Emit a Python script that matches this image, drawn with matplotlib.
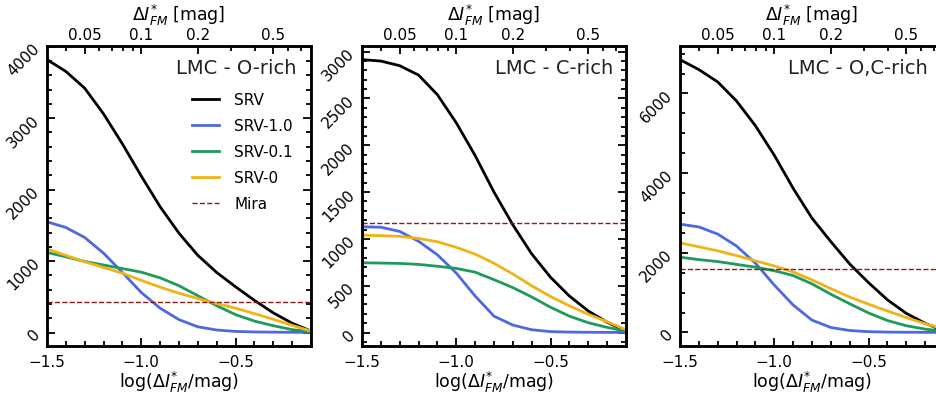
import numpy as np
import matplotlib
matplotlib.use("Agg")
from matplotlib import pyplot as plt
from matplotlib.ticker import MultipleLocator

# log(dI*/mag) grid shared by all curves
logdI = [-1.5, -1.4, -1.3, -1.2, -1.1, -1.0, -0.9, -0.8, -0.7, -0.6, -0.5, -0.4, -0.3, -0.2, -0.1]

# LMC O-rich
o_srv   = [3820, 3655, 3420, 3060, 2640, 2190, 1760, 1390, 1080, 840, 640, 450, 275, 130, 20]
o_srv10 = [1550, 1470, 1330, 1110, 840, 560, 340, 180, 80, 35, 15, 8, 5, 3, 2]
o_srv01 = [1120, 1060, 995, 945, 895, 845, 765, 655, 515, 375, 250, 160, 95, 40, 10]
o_srv0  = [1170, 1080, 990, 910, 830, 730, 635, 550, 475, 405, 340, 265, 185, 100, 20]
o_mira = 430

# LMC C-rich
c_srv   = [2915, 2900, 2850, 2750, 2540, 2240, 1890, 1500, 1150, 840, 590, 390, 230, 110, 15]
c_srv10 = [1130, 1125, 1080, 975, 830, 635, 390, 175, 80, 30, 10, 5, 3, 2, 2]
c_srv01 = [745, 742, 738, 728, 708, 685, 645, 565, 480, 380, 270, 175, 105, 55, 15]
c_srv0  = [1040, 1035, 1027, 1005, 970, 910, 838, 740, 625, 500, 385, 285, 195, 115, 30]
c_mira = 1170

# LMC O,C-rich
oc_srv   = [6850, 6600, 6290, 5810, 5190, 4450, 3620, 2870, 2280, 1720, 1250, 820, 480, 230, 40]
oc_srv10 = [2720, 2650, 2470, 2170, 1740, 1190, 690, 310, 125, 50, 20, 10, 6, 4, 3]
oc_srv01 = [1890, 1830, 1780, 1710, 1640, 1550, 1430, 1220, 960, 720, 490, 300, 170, 85, 30]
oc_srv0  = [2250, 2150, 2050, 1930, 1800, 1670, 1520, 1320, 1100, 890, 710, 540, 375, 220, 80]
oc_mira = 1600

titles = ["LMC - O-rich", "LMC - C-rich", "LMC - O,C-rich"]
labels = ["SRV", "SRV-1.0", "SRV-0.1", "SRV-0"]
colors = ["black", "#4d68e0", "#1f9a5c", "#f0b316"]
top_major = [0.05, 0.1, 0.2, 0.5]
top_minor = [0.04, 0.06, 0.07, 0.08, 0.09, 0.3, 0.4, 0.6, 0.7]

panels = [
    ([o_srv, o_srv10, o_srv01, o_srv0], o_mira, 1000, 200),
    ([c_srv, c_srv10, c_srv01, c_srv0], c_mira, 500, 100),
    ([oc_srv, oc_srv10, oc_srv01, oc_srv0], oc_mira, 2000, 500),
]

W, H = 936, 397
fig = plt.figure(figsize=(W / 100, H / 100), dpi=100)
lefts = [47, 362, 680]
title_x = [0.945, 0.95, 0.94]

for k, (series, mira, major, minor) in enumerate(panels):
    ax = fig.add_axes([lefts[k] / W, 51 / H, 264 / W, 300 / H])
    for ys, lab, col in zip(series, labels, colors):
        ax.plot(logdI, ys, color=col, lw=2, label=lab)
    ax.axhline(mira, color="#8b1a1a", lw=1, ls="--", label="Mira")
    ax.set_xlim(-1.5, -0.1)
    ax.margins(y=0.05)

    ax.xaxis.set_major_locator(MultipleLocator(0.5))
    ax.xaxis.set_minor_locator(MultipleLocator(0.1))
    ax.yaxis.set_major_locator(MultipleLocator(major))
    ax.yaxis.set_minor_locator(MultipleLocator(minor))
    ax.tick_params(which="both", direction="in", left=True, right=True,
                   bottom=True, top=False, labelsize=11, width=1.3)
    ax.tick_params(which="major", length=6)
    ax.tick_params(which="minor", length=3.5)
    ax.tick_params(axis="x", pad=6.5)
    ax.tick_params(axis="y", pad=7)
    for lbl in ax.get_yticklabels():
        lbl.set_rotation(45)
        lbl.set_rotation_mode("anchor")
        lbl.set_ha("right")
        lbl.set_va("center")
    for sp in ax.spines.values():
        sp.set_linewidth(1.8)
    ax.set_xlabel(r"log($\Delta I^{*}_{FM}$/mag)", fontsize=12.5, labelpad=0)

    # top axis in magnitudes
    top = ax.twiny()
    top.set_xlim(ax.get_xlim())
    top.set_xticks(np.log10(top_major))
    top.set_xticklabels([str(v) for v in top_major])
    top.set_xticks(np.log10(top_minor), minor=True)
    top.tick_params(which="both", direction="in", labelsize=11, width=1.3, pad=2)
    top.tick_params(which="major", length=6)
    top.tick_params(which="minor", length=3.5)
    for sp in top.spines.values():
        sp.set_linewidth(1.8)
    top.set_xlabel(r"$\Delta I^{*}_{FM}$ [mag]", fontsize=12.5, labelpad=5)

    ax.text(title_x[k], 0.955, titles[k], transform=ax.transAxes, ha="right",
            va="top", fontsize=14, color="#222222")
    if k == 0:
        ax.legend(loc="upper right", bbox_to_anchor=(0.955, 0.865), frameon=False,
                  fontsize=11, handlelength=1.75, labelspacing=0.72,
                  handletextpad=1.0, borderaxespad=0)

fig.savefig("out.png", dpi=100)
